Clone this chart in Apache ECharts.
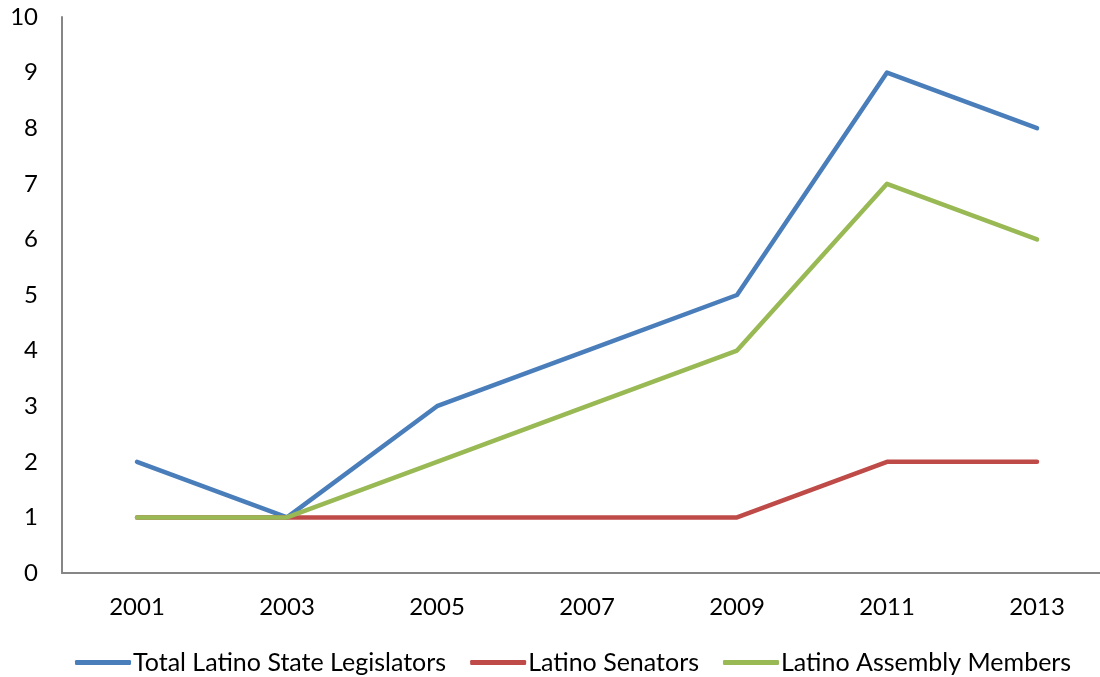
<!DOCTYPE html>
<html>
<head>
<meta charset="utf-8">
<script src="https://cdn.jsdelivr.net/npm/echarts@6/dist/echarts.min.js"></script>
<style>
  html, body { margin: 0; padding: 0; background: #fff; }
  #myChart { width: 1100px; height: 677px; }
</style>
</head>
<body>
<div id="myChart"></div>
<script>
var years = ['2001', '2003', '2005', '2007', '2009', '2011', '2013'];
var totalLegislators = [2, 1, 3, 4, 5, 9, 8];
var senators = [1, 1, 1, 1, 1, 2, 2];
var assemblyMembers = [1, 1, 2, 3, 4, 7, 6];

var font = 'Lato';
var chart = echarts.init(document.getElementById('myChart'));

function line(name, data, color) {
  return {
    name: name,
    type: 'line',
    data: data,
    symbol: 'none',
    animation: false,
    lineStyle: { color: color, width: 4.5, cap: 'round', join: 'round' },
    itemStyle: { color: color }
  };
}

chart.setOption({
  textStyle: { fontFamily: font },
  grid: { left: 62, width: 1050, top: 17, bottom: 104, outerBoundsMode: 'none', containLabel: false },
  legend: {
    top: 645,
    left: 70,
    itemWidth: 56,
    itemHeight: 5,
    itemGap: 24,
    icon: 'roundRect',
    textStyle: { fontFamily: font, fontSize: 25, color: '#000', padding: [0, 0, 0, -3] },
    data: ['Total Latino State Legislators', 'Latino Senators', 'Latino Assembly Members']
  },
  xAxis: {
    type: 'category',
    data: years,
    boundaryGap: true,
    axisLine: { lineStyle: { color: '#868686', width: 2 } },
    axisTick: { show: false },
    axisLabel: { color: '#000', fontSize: 24, fontFamily: font, margin: 22 }
  },
  yAxis: {
    type: 'value',
    min: 0,
    max: 10,
    interval: 1,
    splitLine: { show: false },
    axisLine: { show: true, lineStyle: { color: '#868686', width: 2 } },
    axisTick: { show: false },
    axisLabel: { color: '#000', fontSize: 24, fontFamily: font, margin: 24 }
  },
  series: [
    line('Total Latino State Legislators', totalLegislators, '#4A7EBB'),
    line('Latino Senators', senators, '#BE4B48'),
    line('Latino Assembly Members', assemblyMembers, '#98B954')
  ]
});
</script>
</body>
</html>
